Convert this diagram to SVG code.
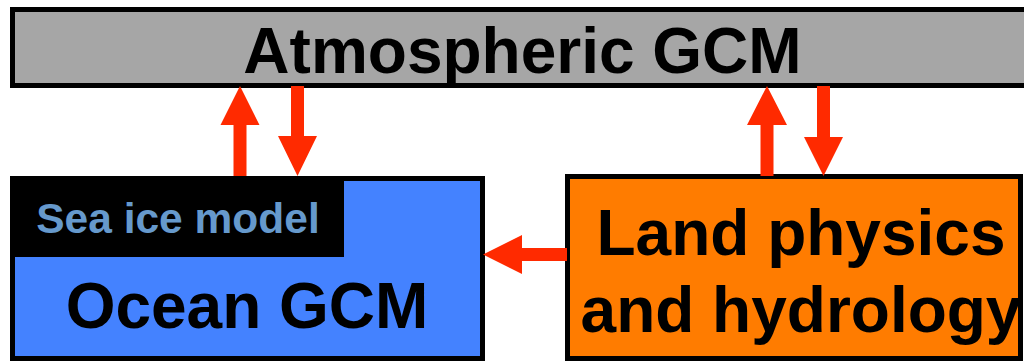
<svg xmlns="http://www.w3.org/2000/svg" width="1024" height="361" viewBox="0 0 1024 361">
  <style>
    .box { stroke: #000; stroke-width: 5; }
    .lbl { font-family: "Liberation Sans", Arial, sans-serif; font-weight: bold; font-size: 64px; fill: #000; text-anchor: middle; }
    .arr { fill: #ff2a00; }
  </style>
  <rect x="0" y="0" width="1024" height="361" fill="#fff"/>
  <g id="atmospheric-gcm">
    <rect class="box" x="12.5" y="9.5" width="1020" height="76" fill="#a6a6a6"/>
    <text class="lbl" x="522.5" y="73">Atmospheric GCM</text>
  </g>
  <g id="ocean-gcm">
    <rect class="box" x="12.5" y="178.5" width="470" height="180" fill="#4482ff"/>
    <text class="lbl" x="247" y="328">Ocean GCM</text>
  </g>
  <g id="sea-ice-model">
    <rect x="10" y="176" width="334" height="81" fill="#000"/>
    <text x="178" y="233" style="font-family:'Liberation Sans', Arial, sans-serif;font-weight:bold;font-size:42.5px;fill:#6699cc;text-anchor:middle">Sea ice model</text>
  </g>
  <g id="land-physics">
    <rect class="box" x="567.5" y="176.5" width="453" height="182" fill="#ff7c00"/>
    <text class="lbl" x="801" y="255">Land physics</text>
    <text class="lbl" x="801" y="332">and hydrology</text>
  </g>
  <g id="connectors">
    <polygon class="arr" points="240,86 259.5,125 246.5,125 246.5,176 233.5,176 233.5,125 220.5,125"/>
    <polygon class="arr" points="291,86 304,86 304,136 317,136 297.5,176 278,136 291,136"/>
    <polygon class="arr" points="767,86 787,125 773.5,125 773.5,176 760.5,176 760.5,125 747,125"/>
    <polygon class="arr" points="817,86 830,86 830,137 843,137 823.5,176 804,137 817,137"/>
    <polygon class="arr" points="483,254.5 522,235 522,248 567,248 567,261 522,261 522,274"/>
  </g>
</svg>
